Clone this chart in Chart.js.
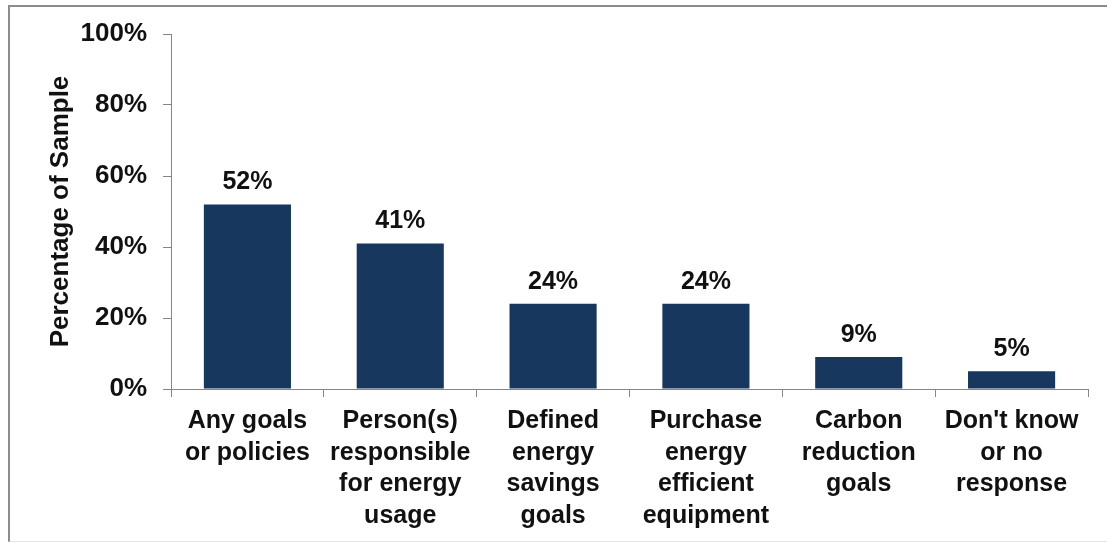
<!DOCTYPE html>
<html>
<head>
<meta charset="utf-8">
<script src="https://cdn.jsdelivr.net/npm/chart.js@4/dist/chart.umd.min.js"></script>
<style>
  html, body { margin: 0; padding: 0; background: #fff; }
  #frame {
    position: absolute; left: 8px; top: 5px; width: 1097px; height: 534px;
    border-top: 2px solid #8c8c8c; border-left: 2px solid #8c8c8c;
    border-bottom: 1px solid #e4e4e4;
  }
  #wrap { position: absolute; left: 0; top: 0; width: 1107px; height: 543px; }
</style>
</head>
<body>
<div id="frame"></div>
<div id="wrap"><canvas id="chart" width="1107" height="543"></canvas></div>
<script>
const categories = [
  ['Any goals', 'or policies'],
  ['Person(s)', 'responsible', 'for energy', 'usage'],
  ['Defined', 'energy', 'savings', 'goals'],
  ['Purchase', 'energy', 'efficient', 'equipment'],
  ['Carbon', 'reduction', 'goals'],
  ["Don't know", 'or no', 'response']
];
const shares = [52, 41, 24, 24, 9, 5];
const yTicks = [0, 20, 40, 60, 80, 100];

const FONT = "'Liberation Sans', Arial, sans-serif";
const axisGray = '#868686';

// value labels above each bar
const barLabels = {
  id: 'barLabels',
  afterDatasetsDraw(chart) {
    const ctx = chart.ctx;
    const meta = chart.getDatasetMeta(0);
    ctx.save();
    ctx.font = 'bold 25px ' + FONT;
    ctx.fillStyle = '#111';
    ctx.textAlign = 'center';
    ctx.textBaseline = 'alphabetic';
    meta.data.forEach((bar, i) => {
      ctx.fillText(shares[i] + '%', bar.x, bar.y - 15);
    });
    ctx.restore();
  }
};

new Chart(document.getElementById('chart'), {
  type: 'bar',
  data: {
    labels: categories,
    datasets: [{
      data: shares,
      backgroundColor: '#17375e',
      barPercentage: 0.57,
      categoryPercentage: 1
    }]
  },
  options: {
    responsive: false,
    animation: false,
    layout: { padding: { left: 45, right: 19, top: 34, bottom: 7 } },
    plugins: {
      legend: { display: false },
      tooltip: { enabled: false }
    },
    scales: {
      x: {
        afterFit(scale) { scale.height = 147; },
        grid: { drawOnChartArea: false, tickLength: 8, color: axisGray },
        border: { color: axisGray },
        ticks: {
          color: '#111',
          padding: 8,
          maxRotation: 0,
          autoSkip: false,
          font: { family: FONT, size: 25, weight: 'bold', lineHeight: 1.27 }
        }
      },
      y: {
        min: 0,
        max: 100,
        afterFit(scale) { scale.width = 126; },
        afterBuildTicks(scale) { scale.ticks = yTicks.map(v => ({ value: v })); },
        grid: { drawOnChartArea: false, tickLength: 8, color: axisGray },
        border: { color: axisGray },
        ticks: {
          color: '#111',
          padding: 16,
          callback: v => v + '%',
          font: { family: FONT, size: 26, weight: 'bold' }
        },
        title: {
          display: true,
          text: 'Percentage of Sample',
          color: '#111',
          padding: 0,
          font: { family: FONT, size: 26, weight: 'bold' }
        }
      }
    }
  },
  plugins: [barLabels]
});
</script>
</body>
</html>
